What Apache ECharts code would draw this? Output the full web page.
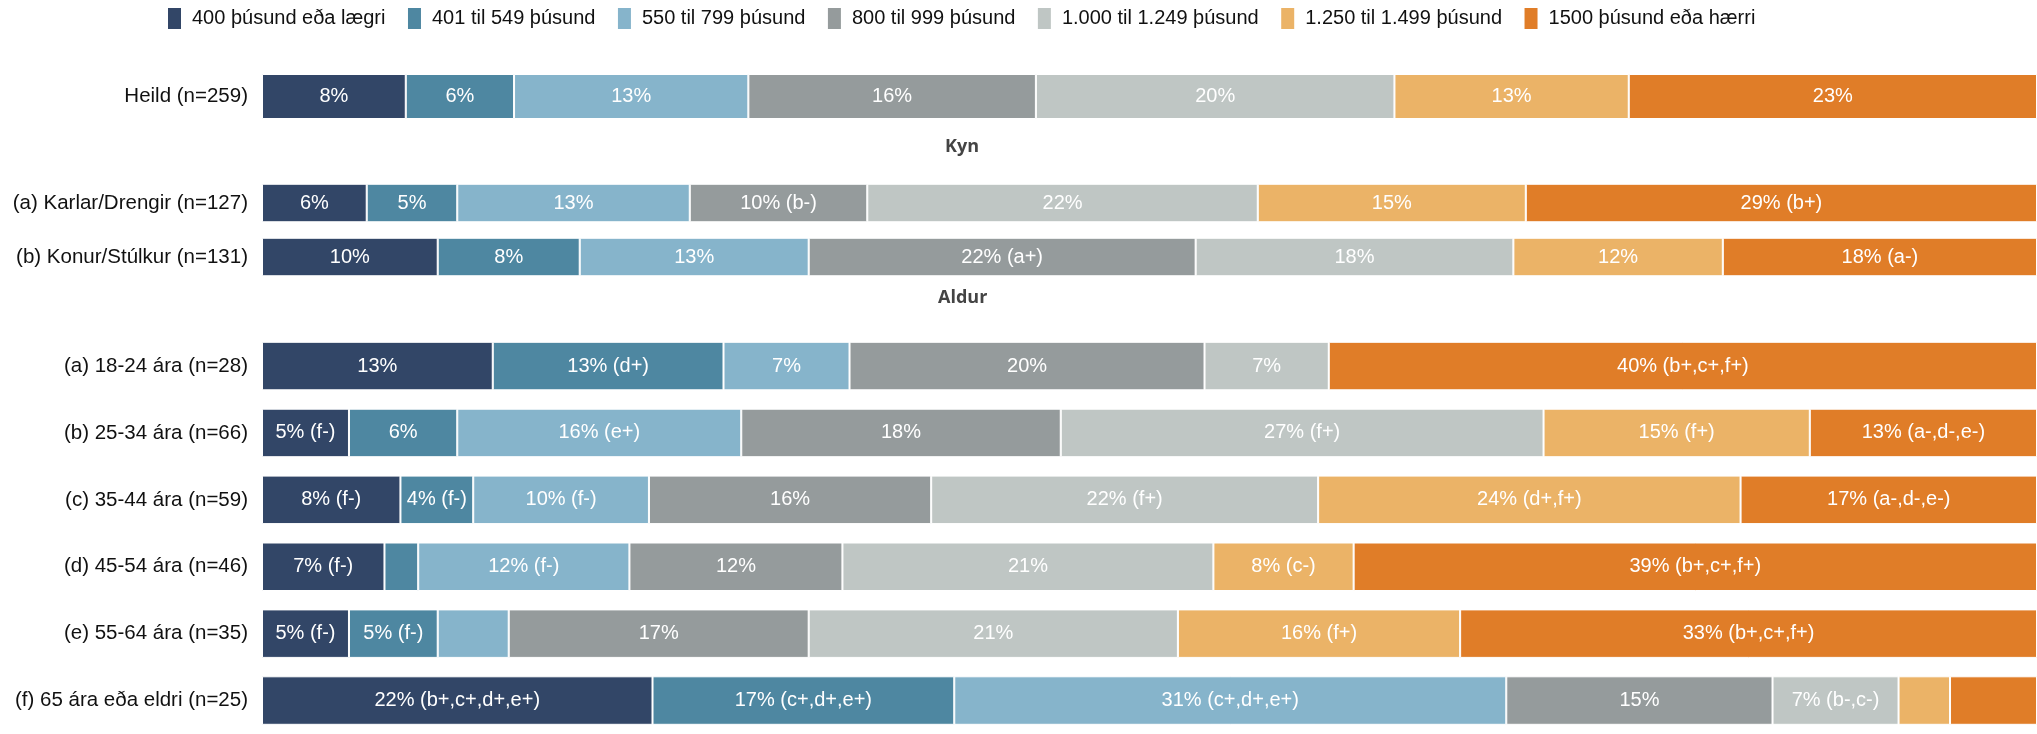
<!DOCTYPE html>
<html>
<head>
<meta charset="utf-8">
<script src="https://cdn.jsdelivr.net/npm/echarts@6/dist/echarts.min.js"></script>
<style>
  html, body { margin: 0; padding: 0; background: #ffffff; }
  #chart { width: 2037px; height: 734px; }
</style>
</head>
<body>
<div id="chart"></div>
<script>
// ---- Data ----
const legendNames = ['400 þúsund eða lægri', '401 til 549 þúsund', '550 til 799 þúsund', '800 til 999 þúsund', '1.000 til 1.249 þúsund', '1.250 til 1.499 þúsund', '1500 þúsund eða hærri'];

const heildCats = ['Heild (n=259)'];
const kynCats = ['(a) Karlar/Drengir (n=127)', '(b) Konur/Stúlkur (n=131)'];
const aldurCats = ['(a) 18-24 ára (n=28)', '(b) 25-34 ára (n=66)', '(c) 35-44 ára (n=59)', '(d) 45-54 ára (n=46)', '(e) 55-64 ára (n=35)', '(f) 65 ára eða eldri (n=25)'];

const headerKyn = 'Kyn';
const headerAldur = 'Aldur';

// rows: Heild, Karlar, Konur, a, b, c, d, e, f
const band400  = [8.1, 5.9, 9.9, 13.0, 4.9, 7.8, 6.9, 4.9, 22.0];
const band401  = [6.1, 5.1, 8.0, 13.0, 6.1, 4.1, 1.9, 5.0, 17.0];
const band550  = [13.2, 13.1, 12.9, 7.1, 16.0, 9.9, 11.9, 4.0, 31.1];
const band800  = [16.2, 10.0, 21.8, 20.0, 18.0, 15.9, 12.0, 16.9, 15.0];
const band1000 = [20.2, 22.0, 17.9, 7.0, 27.2, 21.8, 20.9, 20.8, 7.1];
const band1250 = [13.2, 15.1, 11.8, 0, 15.0, 23.8, 7.9, 15.9, 2.9];
const band1500 = [23.0, 28.8, 17.7, 39.9, 12.8, 16.7, 38.5, 32.5, 4.9];

const lab400  = ['8%', '6%', '10%', '13%', '5% (f-)', '8% (f-)', '7% (f-)', '5% (f-)', '22% (b+,c+,d+,e+)'];
const lab401  = ['6%', '5%', '8%', '13% (d+)', '6%', '4% (f-)', '', '5% (f-)', '17% (c+,d+,e+)'];
const lab550  = ['13%', '13%', '13%', '7%', '16% (e+)', '10% (f-)', '12% (f-)', '', '31% (c+,d+,e+)'];
const lab800  = ['16%', '10% (b-)', '22% (a+)', '20%', '18%', '16%', '12%', '17%', '15%'];
const lab1000 = ['20%', '22%', '18%', '7%', '27% (f+)', '22% (f+)', '21%', '21%', '7% (b-,c-)'];
const lab1250 = ['13%', '15%', '12%', '', '15% (f+)', '24% (d+,f+)', '8% (c-)', '16% (f+)', ''];
const lab1500 = ['23%', '29% (b+)', '18% (a-)', '40% (b+,c+,f+)', '13% (a-,d-,e-)', '17% (a-,d-,e-)', '39% (b+,c+,f+)', '33% (b+,c+,f+)', ''];

// ---- Styling ----
const colors = ['#324667', '#4e87a1', '#86b4cb', '#959b9c', '#bfc6c4', '#ebb367', '#e07d28'];
const bands = [band400, band401, band550, band800, band1000, band1250, band1500];
const labels = [lab400, lab401, lab550, lab800, lab1000, lab1250, lab1500];

const FONT = '"Liberation Sans", Arial, sans-serif';

// grid row ranges
const groups = [
  { cats: heildCats, from: 0, to: 1, top: 74, height: 45, barWidth: 45 },
  { cats: kynCats, from: 1, to: 3, top: 176, height: 108, barWidth: 38.5 },
  { cats: aldurCats, from: 3, to: 9, top: 332.6, height: 412.8, barWidth: 48.5 }
];

const grids = groups.map(g => ({ left: 262, right: 0, top: g.top, height: g.height, containLabel: false }));
const xAxes = groups.map((g, i) => ({
  type: 'value', gridIndex: i, min: 0, max: 100, show: false
}));
const yAxes = groups.map((g, i) => ({
  type: 'category', gridIndex: i, data: g.cats, inverse: true,
  axisLine: { show: false }, axisTick: { show: false }, splitLine: { show: false },
  axisLabel: { color: '#111', fontSize: 20.5, fontFamily: FONT, margin: 14 }
}));

const series = [];
groups.forEach((g, gi) => {
  bands.forEach((band, bi) => {
    const lab = labels[bi].slice(g.from, g.to);
    series.push({
      name: legendNames[bi],
      type: 'bar',
      stack: 'g' + gi,
      xAxisIndex: gi,
      yAxisIndex: gi,
      barWidth: g.barWidth,
      data: band.slice(g.from, g.to),
      itemStyle: { color: colors[bi], borderColor: '#ffffff', borderWidth: 1 },
      label: {
        show: true, position: 'inside', color: '#ffffff', fontSize: 20, fontFamily: FONT,
        formatter: p => lab[p.dataIndex]
      },
      emphasis: { disabled: true },
      animation: false
    });
  });
});

const chart = echarts.init(document.getElementById('chart'), null, { renderer: 'canvas' });
chart.setOption({
  animation: false,
  color: colors,
  legend: {
    data: legendNames,
    left: 166, top: 6, padding: 0,
    itemWidth: 15, itemHeight: 23, itemGap: 20.5,
    icon: 'path://M0,0H15V23H0Z',
    textStyle: { color: '#111', fontSize: 20, fontFamily: FONT, padding: [0, 0, 0, 5] }
  },
  grid: grids,
  xAxis: xAxes,
  yAxis: yAxes,
  series: series,
  graphic: [
    { type: 'text', left: 963 - 18, top: 149 - 11, style: { text: headerKyn, fill: '#444', font: 'bold 18px "Open Sans", sans-serif', textAlign: 'left' } },
    { type: 'text', left: 963 - 25, top: 300 - 11, style: { text: headerAldur, fill: '#444', font: 'bold 18px "Open Sans", sans-serif', textAlign: 'left' } }
  ]
});
</script>
</body>
</html>
